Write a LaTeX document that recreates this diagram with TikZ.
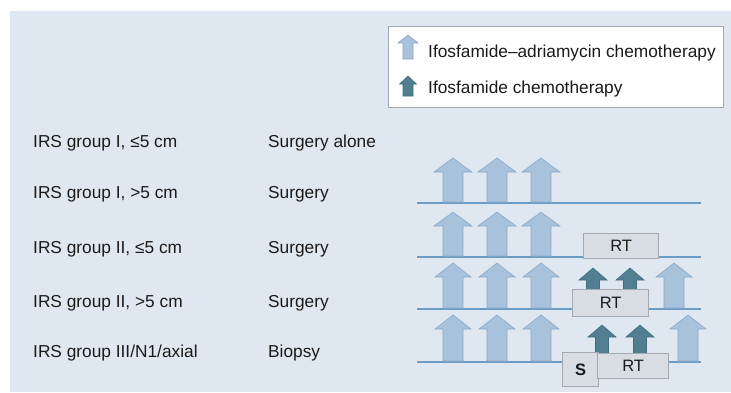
\documentclass[tikz,border=0pt]{standalone}
\usepackage{fontspec}
\setmainfont{Liberation Sans}
\definecolor{panel}{HTML}{DFE8F1}
\definecolor{tline}{HTML}{6A9CC6}
\definecolor{lfill}{HTML}{A9C2DC}
\definecolor{ldraw}{HTML}{8CA9C7}
\definecolor{dfill}{HTML}{527E92}
\definecolor{ddraw}{HTML}{426D81}
\definecolor{boxfill}{HTML}{D8DDE3}
\definecolor{boxdraw}{HTML}{A3AAB2}
\definecolor{txt}{HTML}{1A1A1A}
\tikzset{
  lbl/.style={anchor=base west, inner sep=0pt, text=txt, font=\fontsize{17.3}{19}\selectfont},
  tl/.style={draw=tline, line width=2pt},
  larr/.style={fill=lfill, draw=ldraw, line width=0.6pt},
  darr/.style={fill=dfill, draw=ddraw, line width=0.6pt},
  rtbox/.style={fill=boxfill, draw=boxdraw, line width=1.2pt, inner sep=0pt, text=txt, font=\fontsize{16.5}{18}\selectfont},
}
% #1 style, #2 x, #3 top y, #4 bottom y, #5 shaft half width, #6 head half width, #7 head height
\newcommand\blockarr[7]{%
  \path[#1] (#2-#5,#4) -- (#2-#5,#3+#7) -- (#2-#6,#3+#7) -- (#2,#3) -- (#2+#6,#3+#7) -- (#2+#5,#3+#7) -- (#2+#5,#4) -- cycle;}
\begin{document}
\begin{tikzpicture}[x=1pt,y=-1pt]
\useasboundingbox (0,0) rectangle (731,392);
\fill[white] (0,0) rectangle (731,392);
\fill[panel] (10,11) rectangle (731,392);
% legend
\node[draw=boxdraw, fill=white, line width=0.8pt, minimum width=335pt, minimum height=81pt, anchor=north west, inner sep=0pt] (legend) at (388,26) {};
\blockarr{larr}{408}{35}{59}{5}{10}{8}
\blockarr{darr}{408}{76}{96}{5}{8.5}{8}
\node[lbl] (lg1) at (428,57) {Ifosfamide–adriamycin chemotherapy};
\node[lbl] (lg2) at (428,93) {Ifosfamide chemotherapy};
% left labels
\node[lbl] (g1) at (33,147) {IRS group I, ≤5 cm};
\node[lbl] (g2) at (33,198) {IRS group I, >5 cm};
\node[lbl] (g3) at (33,253) {IRS group II, ≤5 cm};
\node[lbl] (g4) at (33,307) {IRS group II, >5 cm};
\node[lbl] (g5) at (33,357) {IRS group III/N1/axial};
\node[lbl] (t1) at (268,147) {Surgery alone};
\node[lbl] (t2) at (268,198) {Surgery};
\node[lbl] (t3) at (268,253) {Surgery};
\node[lbl] (t4) at (268,307) {Surgery};
\node[lbl] (t5) at (268,357) {Biopsy};
% row 1
\coordinate (r1a) at (417,203); \coordinate (r1b) at (701,203);
\draw[tl] (r1a) -- (r1b);
\foreach \x in {453,497,541} {\blockarr{larr}{\x}{158}{202}{10}{19}{14}}
% row 2
\coordinate (r2a) at (417,257); \coordinate (r2b) at (701,257);
\draw[tl] (r2a) -- (r2b);
\foreach \x in {453,497,541} {\blockarr{larr}{\x}{212}{256}{10}{19}{14}}
\node[rtbox, minimum width=75pt, minimum height=25pt, anchor=north west] (rt2) at (583,233) {RT};
% row 3
\coordinate (r3a) at (417,309); \coordinate (r3b) at (701,309);
\draw[tl] (r3a) -- (r3b);
\foreach \x in {453,497,541,674} {\blockarr{larr}{\x}{263}{308}{10}{18}{14}}
\foreach \x in {593,630} {\blockarr{darr}{\x}{268}{290}{6.5}{14}{12}}
\node[rtbox, minimum width=76pt, minimum height=27pt, anchor=north west] (rt3) at (572,289) {RT};
% row 4
\coordinate (r4a) at (417,362); \coordinate (r4b) at (701,362);
\draw[tl] (r4a) -- (r4b);
\foreach \x in {453,497,541,688} {\blockarr{larr}{\x}{315}{361}{10}{18}{14}}
\foreach \x in {602,640} {\blockarr{darr}{\x}{325}{354}{6.5}{14}{12}}
\node[rtbox, minimum width=36pt, minimum height=34pt, anchor=north west, font=\fontsize{16.5}{18}\selectfont\bfseries] (s4) at (562,352) {S};
\node[rtbox, minimum width=71pt, minimum height=25pt, anchor=north west] (rt4) at (597,353) {RT};
\end{tikzpicture}
\end{document}
